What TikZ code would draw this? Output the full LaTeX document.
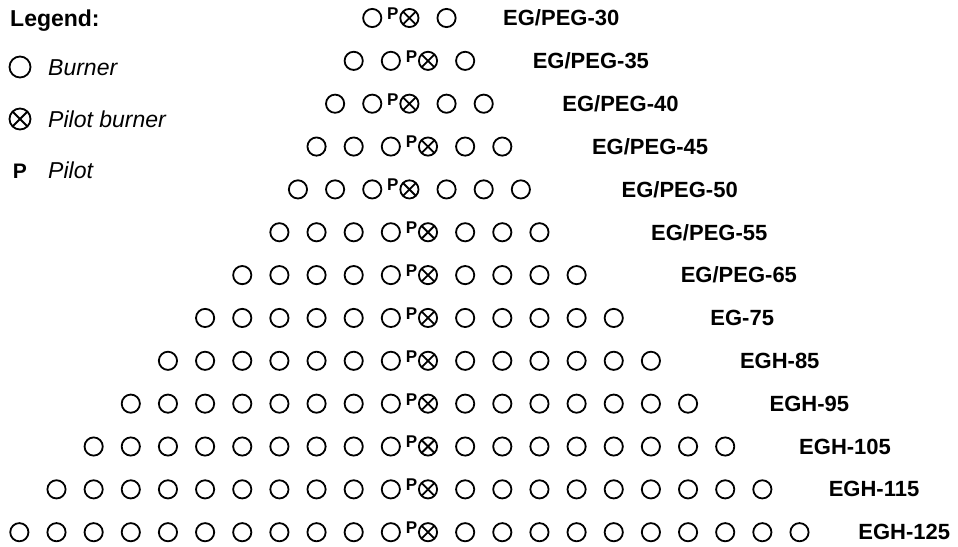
\documentclass[tikz,border=0pt]{standalone}
\usepackage{fontspec}
\setmainfont{Liberation Sans}

\begin{document}
\begin{tikzpicture}
[x=1pt,y=-1pt,%
  every node/.style={inner sep=0pt},%
  burner/.style={shape=circle,draw,line width=1.8pt,minimum size=18.2pt},%
  pilotburner/.style={burner,path picture={%
    \draw[line width=1.8pt] (path picture bounding box.north west) -- (path picture bounding box.south east)
      (path picture bounding box.north east) -- (path picture bounding box.south west);}},%
  pilot/.style={font=\fontsize{17}{19}\selectfont\bfseries,anchor=north},%
  model/.style={font=\fontsize{22}{26}\selectfont\bfseries,anchor=west},%
  legendtext/.style={font=\fontsize{23}{27}\selectfont\itshape,anchor=base west}]
\useasboundingbox (0,0) rectangle (958,546);
% legend
\node[font=\fontsize{23}{27}\selectfont\bfseries,anchor=base west] (legend) at (10,26.5) {Legend:};
\node[burner,minimum size=21pt] (lgb) at (20,67) {};
\node[legendtext] (lgbt) at (48,75) {Burner};
\node[pilotburner,minimum size=21pt] (lgpb) at (20,119) {};
\node[legendtext] (lgpbt) at (48,127) {Pilot burner};
\node[font=\fontsize{21}{25}\selectfont\bfseries,anchor=base] (lgp) at (20,178) {P};
\node[legendtext] (lgpt) at (48,178) {Pilot};
% burner rows
\foreach \i/\nl/\nr/\c/\lab in {1/1/1/409.4/{EG/PEG-30},2/2/1/428/{EG/PEG-35},
  3/2/2/409.4/{EG/PEG-40},4/3/2/428/{EG/PEG-45},5/3/3/409.4/{EG/PEG-50},
  6/4/3/428/{EG/PEG-55},7/5/4/428/{EG/PEG-65},8/6/5/428/{EG-75},
  9/7/6/428/{EGH-85},10/8/7/428/{EGH-95},11/9/8/428/{EGH-105},
  12/10/9/428/{EGH-115},13/11/10/428/{EGH-125}}
{
  \pgfmathsetmacro\y{18+42.85*(\i-1)}
  \node[pilotburner] (pb\i) at (\c,\y) {};
  \node[pilot] (p\i) at ({\c-16.5},{\y-10.5}) {P};
  \foreach \k in {1,...,\nl}
    \node[burner] (l\i-\k) at ({\c-37.15*\k},\y) {};
  \foreach \k in {1,...,\nr}
    \node[burner] (r\i-\k) at ({\c+37.15*\k},\y) {};
  \node[model] (m\i) at ({503+29.6*(\i-1)},\y) {\lab};
}
\end{tikzpicture}
\end{document}
